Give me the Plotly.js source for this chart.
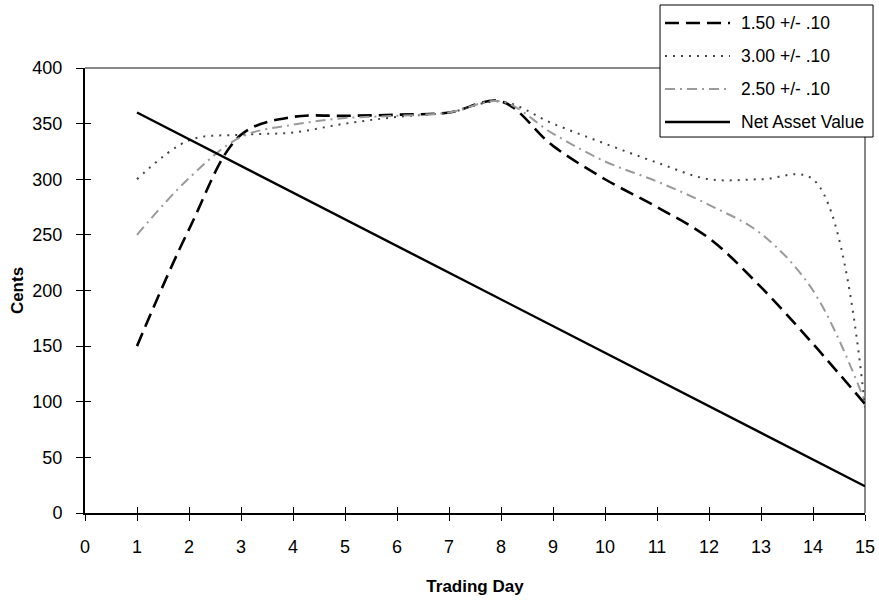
<!DOCTYPE html>
<html>
<head>
<meta charset="utf-8">
<script src="https://cdn.plot.ly/plotly-3.0.1.min.js"></script>
<style>html,body{margin:0;padding:0;background:#fff;}#chart{width:879px;height:600px;}</style>
</head>
<body>
<div id="chart"></div>
<script>
const days = [1, 2, 3, 4, 5, 6, 7, 8, 9, 10, 11, 12, 13, 14, 15];
const s150 = [150, 255, 340, 356, 357, 358, 360, 370, 330, 300, 275, 247, 203, 152, 98];
const s300 = [300, 335, 340, 342, 350, 356, 360, 370, 350, 332, 315, 300, 300, 300, 95];
const s250 = [250, 301, 338, 349, 355, 357, 360, 370, 341, 316, 298, 277, 251, 200, 100];
const nav = [360, 336, 312, 288, 264, 240, 216, 192, 168, 144, 120, 96, 72, 48, 24];
const seriesNames = ['1.50 +/- .10', '3.00 +/- .10', '2.50 +/- .10', 'Net Asset Value'];
const xTicks = [0, 1, 2, 3, 4, 5, 6, 7, 8, 9, 10, 11, 12, 13, 14, 15];
const yTicks = [0, 50, 100, 150, 200, 250, 300, 350, 400];

const font = {family: 'Liberation Sans, Arial, sans-serif', color: '#000'};

const lineStyles = [
  {color: '#000', width: 2.6, dash: '14px,7px'},
  {color: '#444', width: 2, dash: '2px,6px'},
  {color: '#9a9a9a', width: 2, dash: '10px,5px,2px,5px'},
  {color: '#000', width: 2.4, dash: 'solid'}
];
const seriesData = [s150, s300, s250, nav];

const traces = seriesData.map((ys, i) => ({
  x: days, y: ys, name: seriesNames[i], mode: 'lines', showlegend: false,
  line: Object.assign({}, lineStyles[i], i < 3 ? {shape: 'spline', smoothing: 1} : {})
}));
traces.push({x: [0], y: [0], xaxis: 'x2', yaxis: 'y2', mode: 'markers', showlegend: false,
  marker: {opacity: 0}, hoverinfo: 'skip'});

// legend drawn with shapes/annotations (paper coords)
const rowY = [1.1011, 1.0270, 0.9528, 0.8787];
const shapes = [
  {type: 'line', xref: 'paper', yref: 'paper', x0: 0, x1: 1, y0: 1, y1: 1,
   line: {color: '#888', width: 2}, layer: 'below'},
  {type: 'line', xref: 'paper', yref: 'paper', x0: 1, x1: 1, y0: 0, y1: 1,
   line: {color: '#888', width: 2}, layer: 'below'},
  {type: 'rect', xref: 'paper', yref: 'paper', x0: 0.7372, x1: 1.0103, y0: 0.8449, y1: 1.1416,
   fillcolor: '#fff', line: {color: '#000', width: 1}, layer: 'above'}
];
const annotations = [];
seriesNames.forEach((nm, i) => {
  shapes.push({type: 'line', xref: 'paper', yref: 'paper', x0: 0.7436, x1: 0.8269,
    y0: rowY[i], y1: rowY[i], line: Object.assign({}, lineStyles[i]), layer: 'above'});
  annotations.push({xref: 'paper', yref: 'paper', x: 0.8390, y: rowY[i], xanchor: 'left',
    yanchor: 'middle', text: nm, showarrow: false, font: Object.assign({size: 17.5}, font)});
});

const layout = {
  width: 879, height: 600,
  margin: {l: 85, r: 14, t: 68, b: 87},
  paper_bgcolor: '#fff', plot_bgcolor: '#fff',
  font: Object.assign({size: 18}, font),
  showlegend: false,
  xaxis: {range: [0, 15], tickvals: xTicks, ticktext: xTicks.map(String),
    showgrid: false, zeroline: false, showline: true, linecolor: '#000', linewidth: 2,
    ticks: 'outside', ticklen: 6, tickcolor: '#000', tickwidth: 1,
    ticklabelstandoff: 10,
    tickfont: Object.assign({size: 18}, font),
    title: {text: '<b>Trading Day</b>', font: Object.assign({size: 17}, font), standoff: 25}},
  yaxis: {range: [0, 400], tickvals: yTicks, ticktext: yTicks.map(String),
    showgrid: false, zeroline: false, showline: true, linecolor: '#000', linewidth: 2,
    ticks: 'outside', ticklen: 7, tickcolor: '#000', tickwidth: 1,
    ticklabelstandoff: 10,
    tickfont: Object.assign({size: 18}, font),
    title: {text: '<b>Cents</b>', font: Object.assign({size: 17}, font), standoff: 4}},
  xaxis2: {overlaying: 'x', range: [0, 15], tickvals: xTicks, showticklabels: false,
    showgrid: false, zeroline: false, showline: false, ticks: 'inside', ticklen: 6,
    tickcolor: '#000', tickwidth: 1},
  yaxis2: {overlaying: 'y', range: [0, 400], tickvals: yTicks, showticklabels: false,
    showgrid: false, zeroline: false, showline: false, ticks: 'inside', ticklen: 6,
    tickcolor: '#000', tickwidth: 1},
  shapes: shapes,
  annotations: annotations
};

Plotly.newPlot('chart', traces, layout, {displayModeBar: false, staticPlot: true});
</script>
</body>
</html>
